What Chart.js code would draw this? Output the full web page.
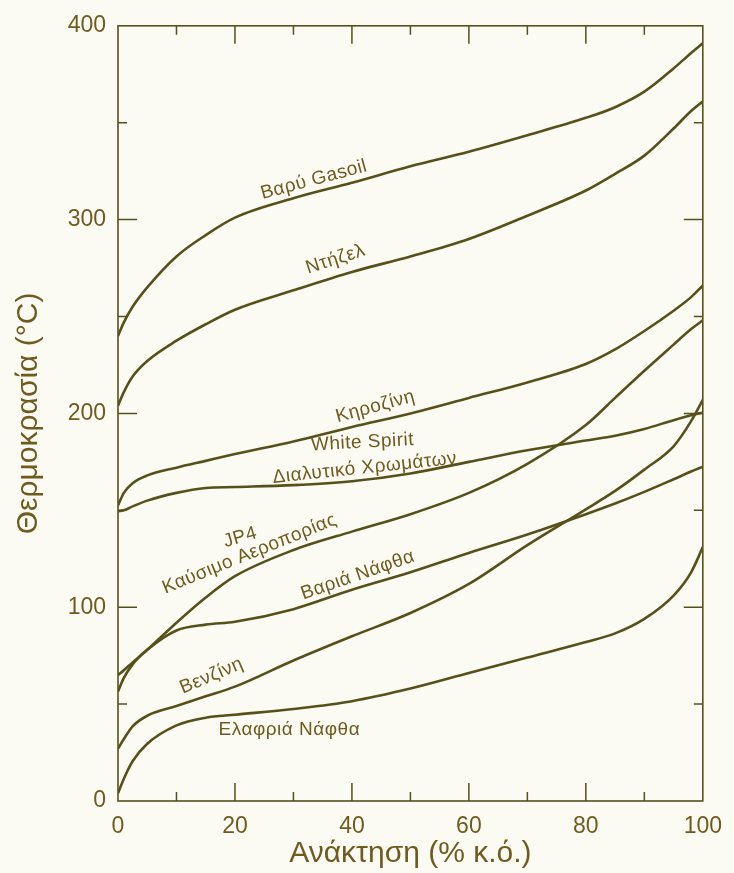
<!DOCTYPE html>
<html>
<head>
<meta charset="utf-8">
<script src="https://cdn.jsdelivr.net/npm/chart.js@4/dist/chart.umd.min.js"></script>
<style>
html,body{margin:0;padding:0;background:#fbfbf3;}
#wrap{width:734px;height:873px;position:relative;}
</style>
</head>
<body>
<div id="wrap"><canvas id="c" width="734" height="873"></canvas></div>
<script>
// Recovery (% vol) at which each curve was read
const recovery = [0, 1, 2.5, 5, 10, 15, 20, 30, 40, 50, 60, 70, 80, 85, 90, 95, 98, 100];

// Temperatures (°C)
const heavyGasoil  = [240, 247, 255, 265, 281, 292, 301, 311, 319, 327.5, 335, 343.5, 352.5, 358, 366, 378, 386, 391];
const diesel       = [204, 211, 219, 227, 237.5, 246, 253.5, 263.5, 273, 281, 290, 302, 315, 323.6, 333, 347, 356, 361];
const kerosene     = [152.5, 159, 164, 168, 172, 175.5, 179, 185.5, 193, 200, 208, 216, 225.5, 233, 242.5, 253, 260, 266];
const whiteSpirit  = [149.5, 150, 152, 155, 159, 161.5, 162, 163, 165, 169, 175, 181, 186, 188.5, 192, 196.5, 199, 200.5];
const jp4          = [65, 67.5, 71.5, 78, 92, 105, 116, 129.5, 139, 148, 159, 174, 194, 208, 222, 235.5, 243.5, 248];
const heavyNaphtha = [56.5, 63.5, 70.5, 78, 88, 91, 92.5, 99, 109, 118, 128, 137.5, 148, 153.5, 159.5, 166, 170, 172.5];
const gasoline     = [27, 32, 38.5, 44, 49, 54, 59, 72.5, 85, 97, 112, 132, 150.5, 160, 171, 183, 196, 207];
const lightNaphtha = [4, 11.5, 20.5, 29.5, 39, 43, 44.5, 47.5, 51.5, 58, 66, 74, 82, 86.5, 94, 106, 118, 131];

const seriesNames = ['Βαρύ Gasoil', 'Ντήζελ', 'Κηροζίνη', 'White Spirit Διαλυτικό Χρωμάτων',
                     'JP4 Καύσιμο Αεροπορίας', 'Βαριά Νάφθα', 'Βενζίνη', 'Ελαφριά Νάφθα'];
const seriesValues = [heavyGasoil, diesel, kerosene, whiteSpirit, jp4, heavyNaphtha, gasoline, lightNaphtha];

const xTickLabels = [0, 20, 40, 60, 80, 100];
const yTickLabels = [0, 100, 200, 300, 400];

// In-plot curve labels (data units)
const labelTexts  = ['Βαρύ Gasoil', 'Ντήζελ', 'Κηροζίνη', 'White Spirit', 'Διαλυτικό Χρωμάτων',
                     'JP4', 'Καύσιμο Αεροπορίας', 'Βαριά Νάφθα', 'Βενζίνη', 'Ελαφριά Νάφθα'];
const labelX      = [33.5, 37.2, 44, 41.8, 42.2, 20.9, 22.5, 41, 16, 29.3];
const labelY      = [320.5, 279.5, 203.5, 185, 171.8, 136, 127.5, 116.5, 64.5, 37];
const labelAngle  = [-15, -18, -15, -3, -6, -16, -22, -19, -23, 0];

const LINE = '#57501a';
const TEXT = '#6f5b20';
const FONT = "'Liberation Sans', Arial, sans-serif";

const datasets = seriesValues.map((vals, i) => ({
  label: seriesNames[i],
  data: recovery.map((r, j) => ({x: r, y: vals[j]})),
  borderColor: LINE,
  borderWidth: 2.6,
  pointRadius: 0,
  fill: false,
  cubicInterpolationMode: 'monotone'
}));

const framePlugin = {
  id: 'frame',
  afterDatasetsDraw(chart) {
    const {ctx, chartArea: a, scales: {x, y}} = chart;
    ctx.save();
    ctx.strokeStyle = LINE;
    ctx.lineWidth = 1.6;
    ctx.strokeRect(a.left, a.top, a.right - a.left, a.bottom - a.top);
    ctx.lineWidth = 1.5;
    ctx.beginPath();
    for (let v = 10; v < 100; v += 10) {
      const px = x.getPixelForValue(v);
      const len = v % 20 === 0 ? 18 : 9;
      ctx.moveTo(px, a.bottom); ctx.lineTo(px, a.bottom - len);
      ctx.moveTo(px, a.top); ctx.lineTo(px, a.top + len);
    }
    for (let v = 50; v < 400; v += 50) {
      const py = y.getPixelForValue(v);
      const len = v % 100 === 0 ? 19 : 9;
      ctx.moveTo(a.left, py); ctx.lineTo(a.left + len, py);
      ctx.moveTo(a.right, py); ctx.lineTo(a.right - len, py);
    }
    ctx.stroke();
    // curve labels
    ctx.fillStyle = TEXT;
    ctx.font = '19px ' + FONT;
    try { ctx.letterSpacing = '0.5px'; } catch (e) {}
    ctx.textAlign = 'center';
    ctx.textBaseline = 'middle';
    labelTexts.forEach((t, i) => {
      ctx.save();
      ctx.translate(x.getPixelForValue(labelX[i]), y.getPixelForValue(labelY[i]));
      ctx.rotate(labelAngle[i] * Math.PI / 180);
      ctx.fillText(t, 0, 0);
      ctx.restore();
    });
    ctx.restore();
  }
};

new Chart(document.getElementById('c'), {
  type: 'line',
  data: {datasets},
  plugins: [framePlugin],
  options: {
    responsive: false,
    animation: false,
    devicePixelRatio: 1,
    layout: {padding: {top: 21, right: 28, left: 0, bottom: 0}},
    plugins: {legend: {display: false}, tooltip: {enabled: false}},
    scales: {
      x: {
        type: 'linear', min: 0, max: 100,
        afterBuildTicks: s => { s.ticks = xTickLabels.map(v => ({value: v})); },
        afterFit: s => { s.height = 72; },
        grid: {display: false, drawTicks: false},
        border: {display: false},
        ticks: {color: TEXT, font: {family: FONT, size: 23}, padding: 12, maxRotation: 0},
        title: {display: true, text: 'Ανάκτηση (% κ.ό.)', color: TEXT,
                font: {family: FONT, size: 30}, padding: {top: 0, bottom: 1}}
      },
      y: {
        min: 0, max: 400,
        afterBuildTicks: s => { s.ticks = yTickLabels.map(v => ({value: v})); },
        afterFit: s => { s.width = 118; },
        grid: {display: false, drawTicks: false},
        border: {display: false},
        ticks: {color: TEXT, font: {family: FONT, size: 23}, padding: 12},
        title: {display: true, text: 'Θερμοκρασία (°C)', color: TEXT,
                font: {family: FONT, size: 30}, padding: {top: 11, bottom: 0}}
      }
    }
  }
});
</script>
</body>
</html>
